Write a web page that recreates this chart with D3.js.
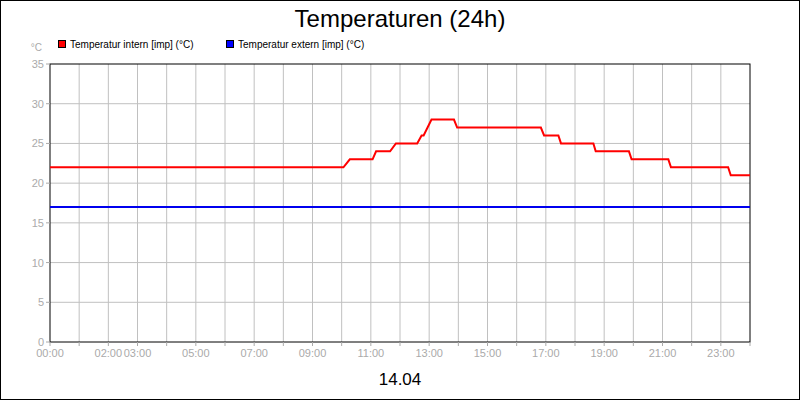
<!DOCTYPE html><html><head><meta charset="utf-8"><script src="https://cdn.jsdelivr.net/npm/d3@7"></script>
<style>body{margin:0}svg{font-family:Arial,"Liberation Sans",sans-serif}</style></head><body><svg width="800" height="400"></svg><script>
const xTickHours=[0,2,3,5,7,9,11,13,15,17,19,21,23];
const yTicks=[0,5,10,15,20,25,30,35];
const internT=[0,10.06,10.28,11.06,11.18,11.66,11.86,12.59,12.74,12.81,13.08,13.85,13.96,16.83,16.94,17.43,17.52,18.63,18.71,19.85,19.94,21.2,21.29,23.25,23.34,24];
const internV=[22,22,23,23,24,24,25,25,26,26,28,28,27,27,26,26,25,25,24,24,23,23,22,22,21,21];
const externT=[0,24];
const externV=[17,17];
const svg=d3.select("svg");
svg.append("rect").attr("x",0.5).attr("y",0.5).attr("width",799).attr("height",399).attr("fill","#fff").attr("stroke","#000");
const x=d3.scaleLinear().domain([0,24]).range([50,750]);
const y=d3.scaleLinear().domain([0,35]).range([342,64]);
const g=svg.append("g");
d3.range(1,24).forEach(h=>g.append("line").attr("x1",x(h)).attr("x2",x(h)).attr("y1",64).attr("y2",342).attr("stroke","#c0c0c0"));
yTicks.slice(1,-1).forEach(v=>g.append("line").attr("x1",50).attr("x2",750).attr("y1",y(v)).attr("y2",y(v)).attr("stroke","#c0c0c0"));
svg.append("rect").attr("x",50).attr("y",64).attr("width",700).attr("height",278).attr("fill","none").attr("stroke","#000");
yTicks.forEach(v=>{svg.append("line").attr("x1",46).attr("x2",50).attr("y1",y(v)).attr("y2",y(v)).attr("stroke","#aaa");
svg.append("text").attr("x",44).attr("y",y(v)+4).attr("text-anchor","end").attr("font-size",11).attr("fill","#aaa").text(v);});
d3.range(0,25).forEach(h=>svg.append("line").attr("x1",x(h)).attr("x2",x(h)).attr("y1",342).attr("y2",346).attr("stroke","#aaa"));
xTickHours.forEach(h=>svg.append("text").attr("x",x(h)).attr("y",357).attr("text-anchor","middle").attr("font-size",11).attr("fill","#aaa").text(String(h).padStart(2,"0")+":00"));
svg.append("text").attr("x",42).attr("y",51).attr("text-anchor","end").attr("font-size",10).attr("fill","#aaa").text("°C");
const line=d3.line().x(d=>x(d[0])).y(d=>y(d[1]));
svg.append("path").attr("d",line(externT.map((t,i)=>[t,externV[i]]))).attr("fill","none").attr("stroke","#0000ee").attr("stroke-width",2);
svg.append("path").attr("d",line(internT.map((t,i)=>[t,internV[i]]))).attr("fill","none").attr("stroke","#ff0000").attr("stroke-width",2);
svg.append("text").attr("x",400).attr("y",27).attr("text-anchor","middle").attr("font-size",24).text("Temperaturen (24h)");
svg.append("text").attr("x",400).attr("y",385).attr("text-anchor","middle").attr("font-size",17).text("14.04");
[["Temperatur intern [imp] (°C)","#ff0000",58],["Temperatur extern [imp] (°C)","#0000ff",226]].forEach(([t,c,lx])=>{
svg.append("rect").attr("x",lx+0.5).attr("y",40.5).attr("width",7).attr("height",7).attr("fill",c).attr("stroke","#000");
svg.append("text").attr("x",lx+12).attr("y",48).attr("font-size",10).text(t);});
</script></body></html>
